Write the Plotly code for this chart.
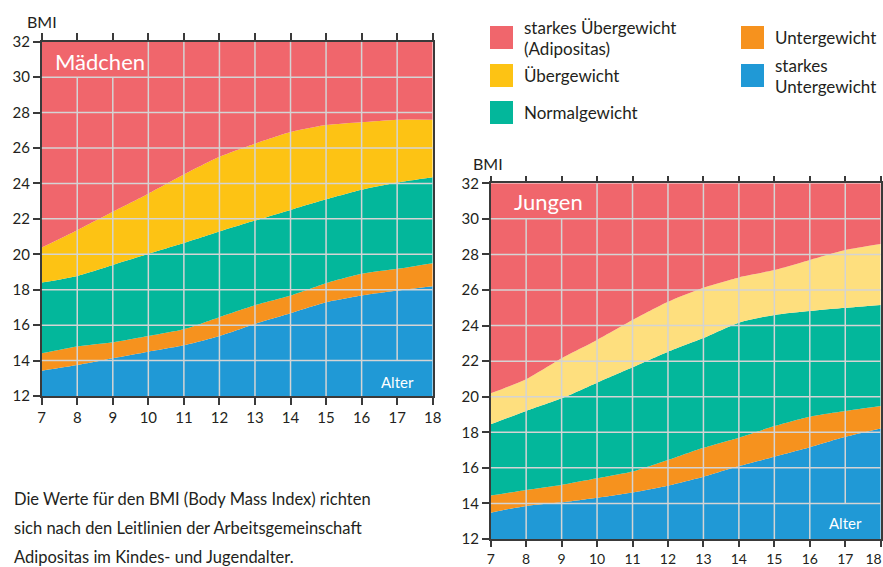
import plotly.graph_objects as go

# ---------------- data ----------------
ages = [7, 8, 9, 10, 11, 12, 13, 14, 15, 16, 17, 18]
y_ticks = [12, 14, 16, 18, 20, 22, 24, 26, 28, 30, 32]
Y_MIN, Y_MAX = 12, 32

# Mädchen (girls) percentile boundaries
girls_p3 = [13.43, 13.75, 14.13, 14.5, 14.86, 15.39, 16.07, 16.67, 17.29, 17.67, 17.95, 18.2]
girls_p10 = [14.41, 14.79, 15.03, 15.39, 15.77, 16.45, 17.12, 17.67, 18.37, 18.9, 19.18, 19.5]
girls_p90 = [18.4, 18.78, 19.4, 20.02, 20.63, 21.28, 21.9, 22.5, 23.1, 23.64, 24.05, 24.35]
girls_p97 = [20.38, 21.36, 22.4, 23.42, 24.5, 25.5, 26.24, 26.9, 27.3, 27.46, 27.6, 27.6]

# Jungen (boys) percentile boundaries
boys_p3 = [13.48, 13.86, 14.06, 14.32, 14.62, 15.0, 15.5, 16.1, 16.63, 17.16, 17.75, 18.22]
boys_p10 = [14.44, 14.76, 15.04, 15.41, 15.79, 16.44, 17.13, 17.7, 18.35, 18.88, 19.2, 19.48]
boys_p90 = [18.45, 19.2, 19.91, 20.79, 21.65, 22.53, 23.3, 24.16, 24.6, 24.82, 25.0, 25.16]
boys_p97 = [20.19, 20.98, 22.16, 23.19, 24.31, 25.34, 26.13, 26.71, 27.12, 27.69, 28.25, 28.59]

legend_left = [["starkes Übergewicht", "(Adipositas)"], ["Übergewicht"], ["Normalgewicht"]]
legend_right = [["Untergewicht"], ["starkes", "Untergewicht"]]
footnote = ["Die Werte für den BMI (Body Mass Index) richten",
            "sich nach den Leitlinien der Arbeitsgemeinschaft",
            "Adipositas im Kindes- und Jugendalter."]

# ---------------- styles ----------------
RED = "#F0666C"
YELLOW_G = "#FDC314"
YELLOW_B = "#FEDF7E"
GREEN = "#03B79B"
ORANGE = "#F6921E"
BLUE = "#2099D6"
GRID = "#D4D4D4"
AXIS = "#3a3a3a"
TEXT = "#231F20"
FONT = "Lato"

fig = go.Figure()


def add_panel(xa, ya, p3, p10, p90, p97, yellow):
    common = dict(x=ages, mode="lines", line=dict(width=0, shape="spline", smoothing=0.6),
                  xaxis=xa, yaxis=ya, showlegend=False, hoverinfo="skip")
    fig.add_trace(go.Scatter(y=p3, fill="tozeroy", fillcolor=BLUE, **common))
    fig.add_trace(go.Scatter(y=p10, fill="tonexty", fillcolor=ORANGE, **common))
    fig.add_trace(go.Scatter(y=p90, fill="tonexty", fillcolor=GREEN, **common))
    fig.add_trace(go.Scatter(y=p97, fill="tonexty", fillcolor=yellow, **common))
    fig.add_trace(go.Scatter(y=[Y_MAX] * len(ages), fill="tonexty", fillcolor=RED, **common))


add_panel("x", "y", girls_p3, girls_p10, girls_p90, girls_p97, YELLOW_G)
add_panel("x2", "y2", boys_p3, boys_p10, boys_p90, boys_p97, YELLOW_B)

W, H = 883, 567
left_dom_x = [41.7 / W, 432.7 / W]
left_dom_y = [(H - 396) / H, (H - 41.7) / H]
right_dom_x = [490.7 / W, 880.7 / W]
right_dom_y = [(H - 539) / H, (H - 183.3) / H]

xcommon = dict(range=[ages[0], ages[-1]], tickvals=ages, ticks="outside", tickwidth=1.5,
               tickcolor=AXIS, showline=True, linecolor=AXIS, linewidth=1.5, mirror="ticks",
               showgrid=False, zeroline=False, automargin=False, ticklabeloverflow="allow")
ycommon = dict(range=[Y_MIN, Y_MAX], tickvals=y_ticks, ticks="outside", ticklen=7, tickwidth=1.5,
               tickcolor=AXIS, showline=True, linecolor=AXIS, linewidth=1.5, mirror=True,
               showgrid=False, zeroline=False, automargin=False,
               tickfont=dict(family=FONT, size=15, color=TEXT))

# right panel: last age label nudged left so it stays inside the picture
right_ticktext = [str(a) for a in ages[:-1]] + [str(ages[-1]) + "\u00a0" * 4]

fig.update_layout(
    width=W, height=H, margin=dict(l=0, r=0, t=0, b=0, autoexpand=False), autosize=False,
    paper_bgcolor="white", plot_bgcolor="white",
    xaxis=dict(domain=left_dom_x, anchor="y", ticklen=7,
               tickfont=dict(family=FONT, size=15, color=TEXT), **xcommon),
    yaxis=dict(domain=left_dom_y, anchor="x", **ycommon),
    xaxis2=dict(domain=right_dom_x, anchor="y2", ticktext=right_ticktext, ticklen=6,
                tickfont=dict(family=FONT, size=14, color=TEXT), **xcommon),
    yaxis2=dict(domain=right_dom_y, anchor="x2", **ycommon),
    font=dict(family=FONT, color=TEXT),
)

# grid lines drawn above the areas (skipping the label boxes)
shapes = []
for xr, yr in (("x", "y"), ("x2", "y2")):
    for a in ages[1:-1]:
        y0 = Y_MIN if a != 17 else 14
        y1 = Y_MAX if a not in (8, 9) else 30
        shapes.append(dict(type="line", xref=xr, yref=yr, x0=a, x1=a, y0=y0, y1=y1,
                           line=dict(color=GRID, width=1.5), layer="above"))
    for t in y_ticks[1:-1]:
        shapes.append(dict(type="line", xref=xr, yref=yr, x0=ages[0], x1=ages[-1], y0=t, y1=t,
                           line=dict(color=GRID, width=1.5), layer="above"))

annotations = []


def txt(s, px, py, size, color=TEXT, xanchor="left"):
    annotations.append(dict(text=s, xref="paper", yref="paper", x=px / W, y=1 - py / H,
                            xanchor=xanchor, yanchor="middle", showarrow=False,
                            font=dict(family=FONT, size=size, color=color)))


# panel labels
txt("Mädchen", 53, 61.5, 22, "white")
txt("Jungen", 512, 201.5, 22, "white")
txt("Alter", 416, 381.5, 15, "white", "right")
txt("Alter", 864, 523, 15, "white", "right")
# BMI labels
txt("BMI", 25, 21.5, 16)
txt("BMI", 471, 163, 16)

# legend (two columns)
leg_items = [(legend_left[0], RED, 490, 26), (legend_left[1], YELLOW_G, 490, 64),
             (legend_left[2], GREEN, 490, 101),
             (legend_right[0], ORANGE, 741, 26), (legend_right[1], BLUE, 741, 64)]
for lines, col, lx, ly in leg_items:
    shapes.append(dict(type="rect", xref="paper", yref="paper", x0=lx / W, x1=(lx + 23) / W,
                       y0=1 - (ly + 23) / H, y1=1 - ly / H, fillcolor=col, line=dict(width=0)))
    if len(lines) == 1:
        txt(lines[0], lx + 32, ly + 11.5, 17)
    else:
        txt(lines[0], lx + 32, ly + 1.5, 17)
        txt(lines[1], lx + 32, ly + 22, 17)

# footnote
for i, line in enumerate(footnote):
    txt(line, 12, 499 + 29 * i, 16.5)

fig.update_layout(shapes=shapes, annotations=annotations)

fig.write_html(
    "out.html",
    config={"displayModeBar": False, "responsive": False},
    post_script="document.body.style.margin='0';document.body.style.overflow='hidden';",
)
